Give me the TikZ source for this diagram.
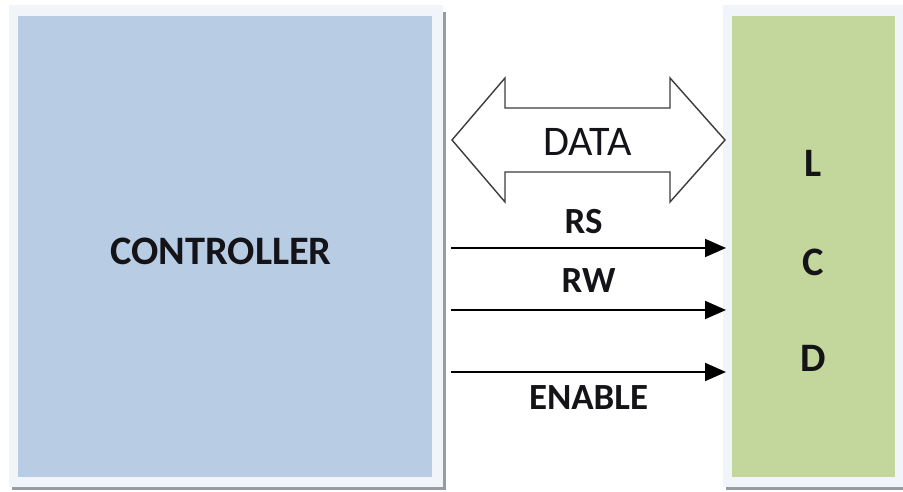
\documentclass[tikz,border=0pt]{standalone}
\usepackage{fontspec}
\setmainfont{Carlito}
\definecolor{CtrlBlue}  {RGB}{184,204,228}
\definecolor{LcdGreen}  {RGB}{195,214,155}
\definecolor{FrameWhite}{RGB}{241,244,249}
\definecolor{ShadowGray}{RGB}{150,156,162}
\definecolor{BusGray}   {RGB}{60,60,60}
\definecolor{InkBlack}  {RGB}{20,20,24}
\usetikzlibrary{arrows.meta,positioning,calc}

\tikzset{
  block/.style={inner sep=0pt,text=InkBlack,font=\fontsize{23}{27}\selectfont\bfseries},
  sig/.style={-{Triangle[length=0.42cm,width=0.36cm]},line width=1.1pt},
  siglabel/.style={inner sep=0pt,text=InkBlack,font=\fontsize{21}{25}\selectfont\bfseries},
}

\begin{document}
\begin{tikzpicture}[x=0.02cm,y=-0.02cm]
  \useasboundingbox (0,0) rectangle (903,492);
  %% light frames with a thin grey shadow right and below
  \fill[ShadowGray](12,12) rectangle (445.5,490);
  \fill[FrameWhite](9,5) rectangle (443,487);
  \fill[ShadowGray](726,12) rectangle (910,490);
  \fill[FrameWhite](723,5) rectangle (903,487);
  %% Controller (blue) and display (green)
  \node[block,fill=CtrlBlue,minimum width=8.28cm,minimum height=9.22cm]
       (ctrl) at (225,246.5){};
  \node[block] (ctrlname) at (221,251){CONTROLLER};
  \node[block,fill=LcdGreen,minimum width=3.26cm,minimum height=9.22cm]
       (lcd) at (813.5,246.5){};
  \node[block] (lcdL) at (813,163){L};
  \node[block] (lcdC) at (813,262){C};
  \node[block] (lcdD) at (813,358){D};
  %% DATA bus: hollow double arrow
  \coordinate (busL) at (452,140);
  \coordinate (busR) at (725,140);
  \draw[BusGray,line width=0.8pt,fill=white,line join=miter]
       (busL) -- ++(53,-62) -- ++(0,30) -- ++(165,0) -- ++(0,-30)
       -- (busR) -- ++(-55,62) -- ++(0,-30) -- ++(-165,0) -- ++(0,30) -- cycle;
  \node[inner sep=0pt,text=InkBlack,font=\fontsize{24}{28}\selectfont] (data)
       at ($(busL)!0.5!(busR)+(-1,2)$){DATA};
  %% control lines into the display
  \coordinate (rsA) at (451,248);  \coordinate (rsB) at (726,248);
  \coordinate (rwA) at (451,310);  \coordinate (rwB) at (726,310);
  \coordinate (enA) at (451,372);  \coordinate (enB) at (726,372);
  \draw[sig](rsA) -- (rsB) node[siglabel,midway,above=0.26cm,xshift=-0.1cm](rs){RS};
  \draw[sig](rwA) -- (rwB) node[siglabel,midway,above=0.34cm](rw){RW};
  \draw[sig](enA) -- (enB) node[siglabel,midway,below=0.26cm](en){ENABLE};
\end{tikzpicture}
\end{document}
